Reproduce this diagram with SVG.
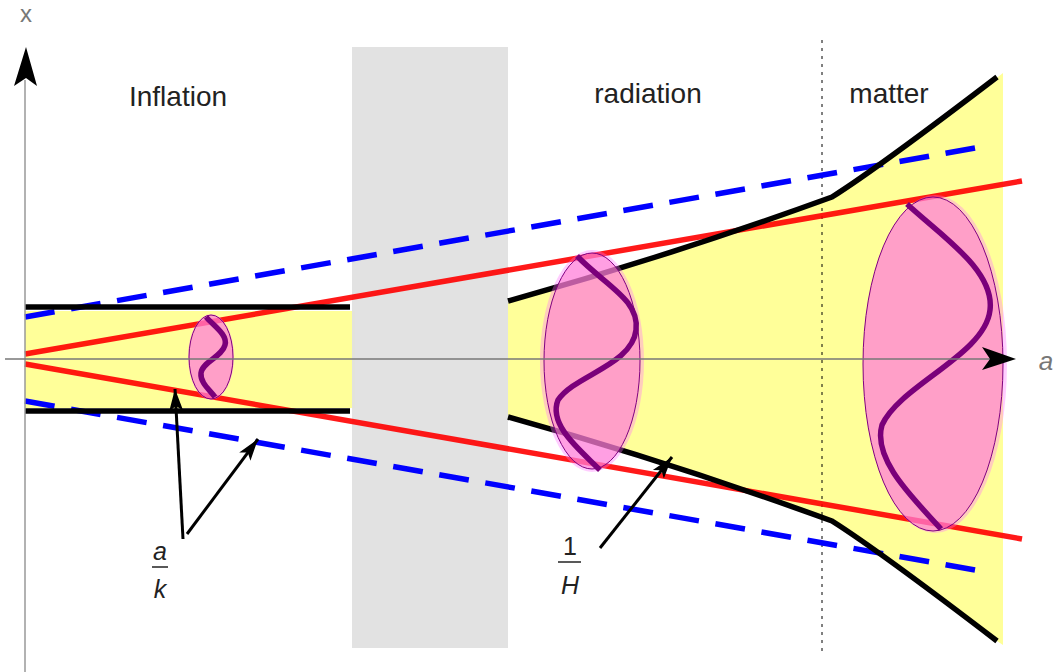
<svg xmlns="http://www.w3.org/2000/svg" width="1057" height="672" viewBox="0 0 1057 672">
<style>
.lbl{font-family:"Liberation Sans",Arial,sans-serif;font-size:28px;fill:#222}
.ax{font-family:"Liberation Sans",Arial,sans-serif;fill:#777}
.frac{font-family:"Liberation Sans",Arial,sans-serif;font-size:25px;fill:#222;text-anchor:middle}
.red{stroke:#ff0000;stroke-opacity:0.9;stroke-width:5.5;fill:none}
.blue{stroke:#0000ff;stroke-width:5.5;fill:none;stroke-dasharray:30,16.75}
.blk{stroke:#000;stroke-width:5.5;fill:none}
.halo{fill:#ff70ff;fill-opacity:0.35}
.ell{fill:#ff80d0;fill-opacity:0.6;stroke:#800080;stroke-width:1}
.wave{stroke:#7a007a;stroke-width:5.5;fill:none;stroke-linecap:butt}
.ptr{stroke:#000;stroke-width:3;fill:none}
</style>
<defs>
<marker id="ah" markerWidth="24" markerHeight="16" refX="22" refY="8" orient="auto" markerUnits="userSpaceOnUse">
<path d="M0,1 L22,8 L0,15 L5,8 Z" fill="#000"/>
</marker>
</defs>
<rect width="1057" height="672" fill="#fff"/>
<g id="regions">
<rect id="infl-band" x="25" y="311" width="330" height="97" fill="#ffff99"/>
<path id="rad-band" d="M508,303 Q670,258 832,199 Q878,170 1003,73 L1003,645 L997,641 Q878,548 832,519 Q670,460 508,415 Z" fill="#ffff99"/>
<rect id="gap" x="352" y="47" width="156" height="601" fill="#e0e0e0" fill-opacity="0.95"/>
<line id="transition" x1="822" y1="40" x2="822" y2="655" stroke="#000" stroke-width="1" stroke-dasharray="3,5"/>
</g>
<g id="connectors">
<line class="red" x1="25" y1="354" x2="1022" y2="181"/>
<line class="red" x1="25" y1="364" x2="1022" y2="539"/>
<line class="blue" x1="25" y1="317" x2="975" y2="148"/>
<line class="blue" x1="25" y1="401" x2="975" y2="570"/>
<line class="blk" x1="25" y1="307" x2="350" y2="307"/>
<line class="blk" x1="25" y1="411" x2="350" y2="411"/>
<path class="blk" d="M508,301 Q670,256 832,197 Q878,168 997,77"/>
<path class="blk" d="M508,417 Q670,462 832,521 Q878,550 997,641"/>
</g>
<g id="mode-small">
<ellipse class="halo" cx="211" cy="357" rx="23" ry="43"/>
<ellipse class="ell" cx="211" cy="357" rx="22" ry="42"/>
<path class="wave" d="M206,317 C214,326 228,335 225,345 C222,357 202,362 201,373 C200,383 210,390 215,397"/>
</g>
<g id="mode-medium">
<ellipse class="halo" cx="592" cy="361" rx="52" ry="111"/>
<ellipse class="ell" cx="592" cy="361" rx="48" ry="108"/>
<path class="wave" d="M577,256 C605,285 640,300 636,330 C632,365 575,375 558,400 C548,425 580,450 600,470"/>
</g>
<g id="mode-large">
<ellipse class="halo" cx="935" cy="364" rx="72" ry="169"/>
<ellipse class="ell" cx="933" cy="364" rx="70" ry="167"/>
<path class="wave" d="M907,204 C940,235 995,270 990,310 C985,355 900,385 882,425 C872,460 915,500 941,529"/>
</g>
<g id="axes">
<line x1="25" y1="80" x2="25" y2="672" stroke="#999" stroke-width="1.5"/>
<path d="M26,47 L37,86 L26,78 L14,86 Z" fill="#000"/>
<line x1="5" y1="359" x2="990" y2="359" stroke="#777" stroke-width="1.3"/>
<path d="M1016,359 L982,347 L990,359 L982,370 Z" fill="#000"/>
<text class="ax" x="26" y="22" font-size="24" text-anchor="middle">x</text>
<text class="ax" x="1046" y="370" font-size="26" font-style="italic" text-anchor="middle">a</text>
</g>
<g id="labels">
<text class="lbl" x="178" y="106" text-anchor="middle">Inflation</text>
<text class="lbl" x="648" y="103" text-anchor="middle">radiation</text>
<text class="lbl" x="889" y="103" text-anchor="middle">matter</text>
</g>
<g id="label-ak">
<line class="ptr" x1="183" y1="539" x2="175" y2="389" marker-end="url(#ah)"/>
<line class="ptr" x1="187" y1="534" x2="258" y2="439" marker-end="url(#ah)"/>
<text class="frac" x="160" y="560" font-style="italic">a</text>
<line x1="152" y1="567" x2="168" y2="567" stroke="#222" stroke-width="1.5"/>
<text class="frac" x="160" y="598" font-style="italic">k</text>
</g>
<g id="label-1H">
<line class="ptr" x1="600" y1="548" x2="672" y2="457" marker-end="url(#ah)"/>
<text class="frac" x="570" y="555">1</text>
<line x1="558" y1="562" x2="581" y2="562" stroke="#222" stroke-width="1.5"/>
<text class="frac" x="570" y="594" font-style="italic">H</text>
</g>
</svg>
